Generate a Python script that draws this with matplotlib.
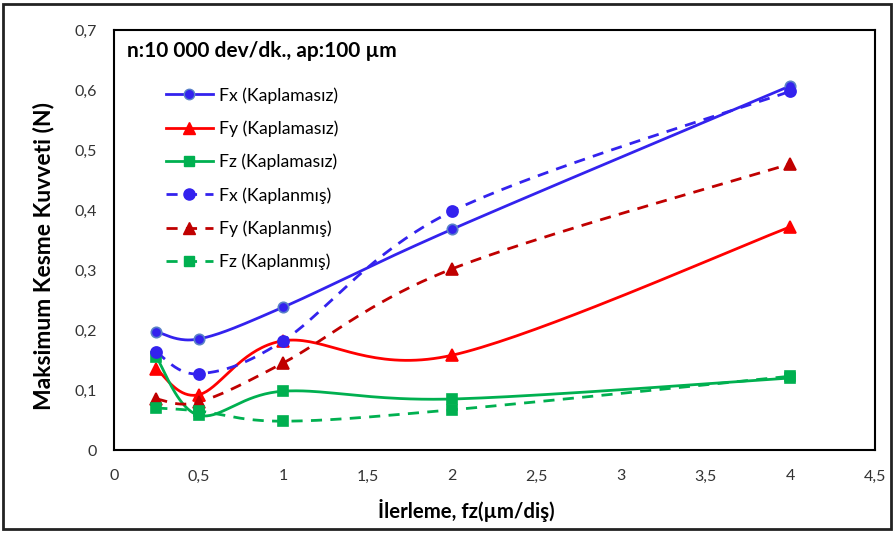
import numpy as np
import matplotlib
matplotlib.use("Agg")
import matplotlib.pyplot as plt
from matplotlib.patches import Rectangle
from matplotlib.lines import Line2D

plt.rcParams['font.family'] = ['Lato', 'DejaVu Sans']

# Feed per tooth (µm/diş)
fz = [0.25, 0.5, 1, 2, 4]

# Maximum cutting forces (N)
fx_uncoated = [0.197, 0.185, 0.238, 0.368, 0.607]
fy_uncoated = [0.135, 0.092, 0.182, 0.158, 0.372]
fz_uncoated = [0.155, 0.058, 0.098, 0.085, 0.120]
fx_coated = [0.163, 0.127, 0.182, 0.398, 0.598]
fy_coated = [0.085, 0.080, 0.145, 0.302, 0.477]
fz_coated = [0.070, 0.065, 0.048, 0.067, 0.123]

labels = ["Fx (Kaplamasız)", "Fy (Kaplamasız)", "Fz (Kaplamasız)",
          "Fx (Kaplanmış)", "Fy (Kaplanmış)", "Fz (Kaplanmış)"]
x_ticks = [0, 0.5, 1, 1.5, 2, 2.5, 3, 3.5, 4, 4.5]
y_ticks = [0, 0.1, 0.2, 0.3, 0.4, 0.5, 0.6, 0.7]


def smooth(xs, ys, n=40):
    """Catmull-Rom style smoothed line through the points."""
    p = np.column_stack([xs, ys]).astype(float)
    pts = np.vstack([p[0], p, p[-1]])
    out = []
    for i in range(1, len(pts) - 2):
        p0, p1, p2, p3 = pts[i - 1], pts[i], pts[i + 1], pts[i + 2]
        c1 = p1 + (p2 - p0) / 6.0
        c2 = p2 - (p3 - p1) / 6.0
        t = np.linspace(0, 1, n)[:, None]
        seg = ((1 - t) ** 3) * p1 + 3 * ((1 - t) ** 2) * t * c1 + 3 * (1 - t) * t ** 2 * c2 + t ** 3 * p2
        out.append(seg if i == 1 else seg[1:])
    s = np.vstack(out)
    return s[:, 0], s[:, 1]


fig = plt.figure(figsize=(8.94, 5.33), dpi=100)
ax = fig.add_axes([114 / 894, 1 - 450 / 533, 761 / 894, 420 / 533])

series = [
    (fx_uncoated, '#3322EE', '-', 'o', '#5A82C8', 7.5),
    (fy_uncoated, '#FF0000', '-', '^', '#FF0000', 8),
    (fz_uncoated, '#00B050', '-', 's', '#00B050', 7.5),
    (fx_coated, '#3322EE', (0, (4, 3)), 'o', '#3322EE', 8),
    (fy_coated, '#C00000', (0, (4, 3)), '^', '#C00000', 8),
    (fz_coated, '#00B050', (0, (4, 3)), 's', '#00B050', 7.5),
]

handles = []
for (ys, col, ls, mk, mec, ms), lab in zip(series, labels):
    sx, sy = smooth(fz, ys)
    ax.plot(sx, sy, color=col, linestyle=ls, linewidth=2, zorder=2)
    ax.plot(fz, ys, linestyle='none', marker=mk, markersize=ms,
            markerfacecolor=col, markeredgecolor=mec, markeredgewidth=1.2, zorder=3)
    handles.append(Line2D([], [], color=col, linestyle=ls, linewidth=2, marker=mk,
                          markersize=ms, markerfacecolor=col, markeredgecolor=mec))

ax.set_xlim(0, 4.5)
ax.set_ylim(0, 0.7)
ax.set_xticks(x_ticks)
ax.set_yticks(y_ticks)
ax.set_xticklabels([f"{v:g}".replace('.', ',') for v in x_ticks])
ax.set_yticklabels([f"{v:g}".replace('.', ',') for v in y_ticks])
ax.tick_params(length=0, labelsize=11.5, colors='#333333', pad=12)
ax.tick_params(axis='x', pad=14)
for sp in ax.spines.values():
    sp.set_linewidth(1.5)
    sp.set_color('black')

ax.set_xlabel("İlerleme, fz(µm/diş)", fontsize=14.7, fontweight='bold', va='center')
ax.set_ylabel("Maksimum Kesme Kuvveti (N)", fontsize=16.5, fontweight='bold', va='center')
ax.xaxis.set_label_coords(0.4626, (450 - 510) / 420)
ax.yaxis.set_label_coords((43 - 114) / 761, 0.462)

ax.text(0.017, (450 - 51) / 420, "n:10 000 dev/dk., ap:100 µm", transform=ax.transAxes,
        fontsize=15, fontweight='bold', va='center', ha='left')

ax.legend(handles, labels, loc='upper left', bbox_to_anchor=(0.047, 0.902),
          frameon=False, fontsize=12.7, handlelength=2.7, labelspacing=0.95,
          handletextpad=0.34)

fig.patches.append(Rectangle((3 / 894, 4 / 533), 888 / 894, 525 / 533,
                             transform=fig.transFigure, fill=False,
                             edgecolor='#222222', linewidth=2))

fig.savefig("out.png", dpi=100)
